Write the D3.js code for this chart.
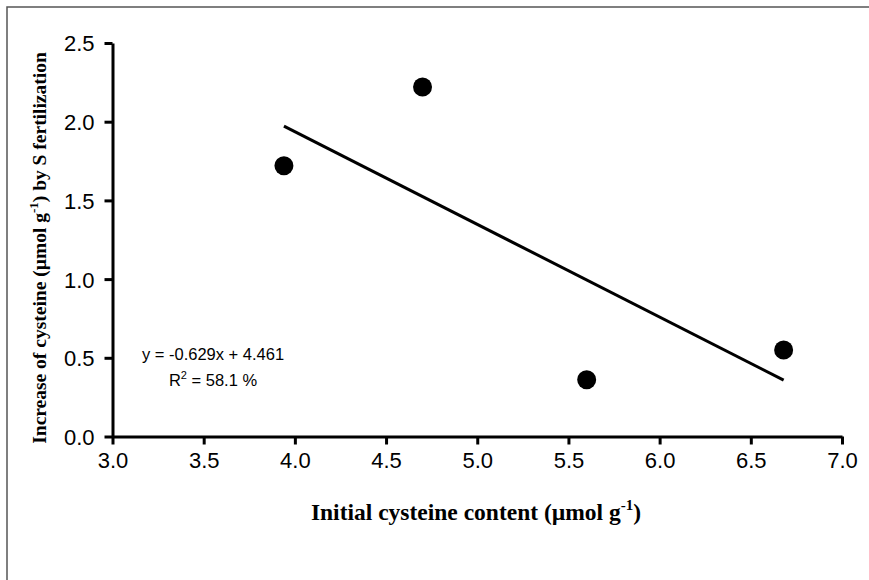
<!DOCTYPE html>
<html>
<head>
<meta charset="utf-8">
<script src="https://cdn.jsdelivr.net/npm/d3@7"></script>
<style>
  body { margin: 0; background: #fff; }
  svg { display: block; }
</style>
</head>
<body>
<svg id="chart" width="869" height="580"></svg>
<script>
// data
var initialCys = [3.94, 4.70, 5.60, 6.68];
var increaseCys = [1.72, 2.22, 0.36, 0.55];
var xTicks = [3.0, 3.5, 4.0, 4.5, 5.0, 5.5, 6.0, 6.5, 7.0];
var yTicks = [0.0, 0.5, 1.0, 1.5, 2.0, 2.5];
var eqnLines = ["y = -0.629x + 4.461", "R2 = 58.1 %"];

var svg = d3.select("#chart"),
    width = +svg.attr("width"),
    height = +svg.attr("height");

// outer frame (only top / left visible in the original)
svg.append("rect")
    .attr("x", 7).attr("y", 7)
    .attr("width", width + 10).attr("height", height + 10)
    .attr("fill", "none")
    .attr("stroke", "#555")
    .attr("stroke-width", 1.5);

var x = d3.scaleLinear().domain([3, 7]).range([112.5, 842]);
var y = d3.scaleLinear().domain([0, 2.5]).range([436.5, 43]);

var xAxis = svg.append("g")
    .attr("transform", "translate(0," + y(0) + ")")
    .call(d3.axisBottom(x).tickValues(xTicks).tickFormat(d3.format(".1f")).tickSize(8).tickSizeOuter(0));

var yAxis = svg.append("g")
    .attr("transform", "translate(" + x(3) + ",0)")
    .call(d3.axisLeft(y).tickValues(yTicks).tickFormat(d3.format(".1f")).tickSize(8).tickSizeOuter(0));

[xAxis, yAxis].forEach(function (g) {
    g.select(".domain").attr("stroke", "#000").attr("stroke-width", 3);
    g.selectAll(".tick line").attr("stroke", "#000").attr("stroke-width", 3);
    g.selectAll(".tick text")
        .attr("fill", "#000")
        .style("font-family", "'Liberation Sans', Arial, sans-serif")
        .style("font-size", "22px");
});
xAxis.selectAll(".tick text").attr("y", 16);
yAxis.selectAll(".tick text").attr("x", -18).attr("dy", "0.36em");

// least squares fit of the four points
var mx = d3.mean(initialCys), my = d3.mean(increaseCys);
var sxy = d3.sum(initialCys, function (d, i) { return (d - mx) * (increaseCys[i] - my); });
var sxx = d3.sum(initialCys, function (d) { return (d - mx) * (d - mx); });
var slope = sxy / sxx, icpt = my - slope * mx;
var xr = d3.extent(initialCys);

svg.append("line")
    .attr("x1", x(xr[0])).attr("y1", y(icpt + slope * xr[0]))
    .attr("x2", x(xr[1])).attr("y2", y(icpt + slope * xr[1]))
    .attr("stroke", "#000")
    .attr("stroke-width", 3);

svg.append("g")
    .selectAll("circle")
    .data(initialCys)
    .enter().append("circle")
    .attr("cx", function (d) { return x(d); })
    .attr("cy", function (d, i) { return y(increaseCys[i]); })
    .attr("r", 9.5)
    .attr("fill", "#000");

// equation text
var eq = svg.append("g")
    .style("font-family", "'Liberation Sans', Arial, sans-serif")
    .style("font-size", "16.5px")
    .attr("text-anchor", "middle");
eq.append("text").attr("x", 213).attr("y", 360).text(eqnLines[0]);
var r2 = eq.append("text").attr("x", 213).attr("y", 386);
r2.append("tspan").text("R");
r2.append("tspan").attr("dy", -7).style("font-size", "11px").text("2");
r2.append("tspan").attr("dy", 7).text(eqnLines[1].slice(2));

// axis titles
var xt = svg.append("text")
    .attr("x", 476).attr("y", 520)
    .attr("text-anchor", "middle")
    .style("font-family", "'Liberation Serif', 'Times New Roman', serif")
    .style("font-weight", "bold")
    .style("font-size", "23.5px");
xt.append("tspan").text("Initial cysteine content (\u00b5mol g");
xt.append("tspan").attr("dy", -10).style("font-size", "15px").text("-1");
xt.append("tspan").attr("dy", 10).text(")");

var yt = svg.append("text")
    .attr("transform", "translate(46,248) rotate(-90)")
    .attr("text-anchor", "middle")
    .style("font-family", "'Liberation Serif', 'Times New Roman', serif")
    .style("font-weight", "bold")
    .style("font-size", "19.5px");
yt.append("tspan").text("Increase of cysteine (\u00b5mol g");
yt.append("tspan").attr("dy", -8).style("font-size", "13px").text("-1");
yt.append("tspan").attr("dy", 8).text(") by S fertilization");
</script>
</body>
</html>
